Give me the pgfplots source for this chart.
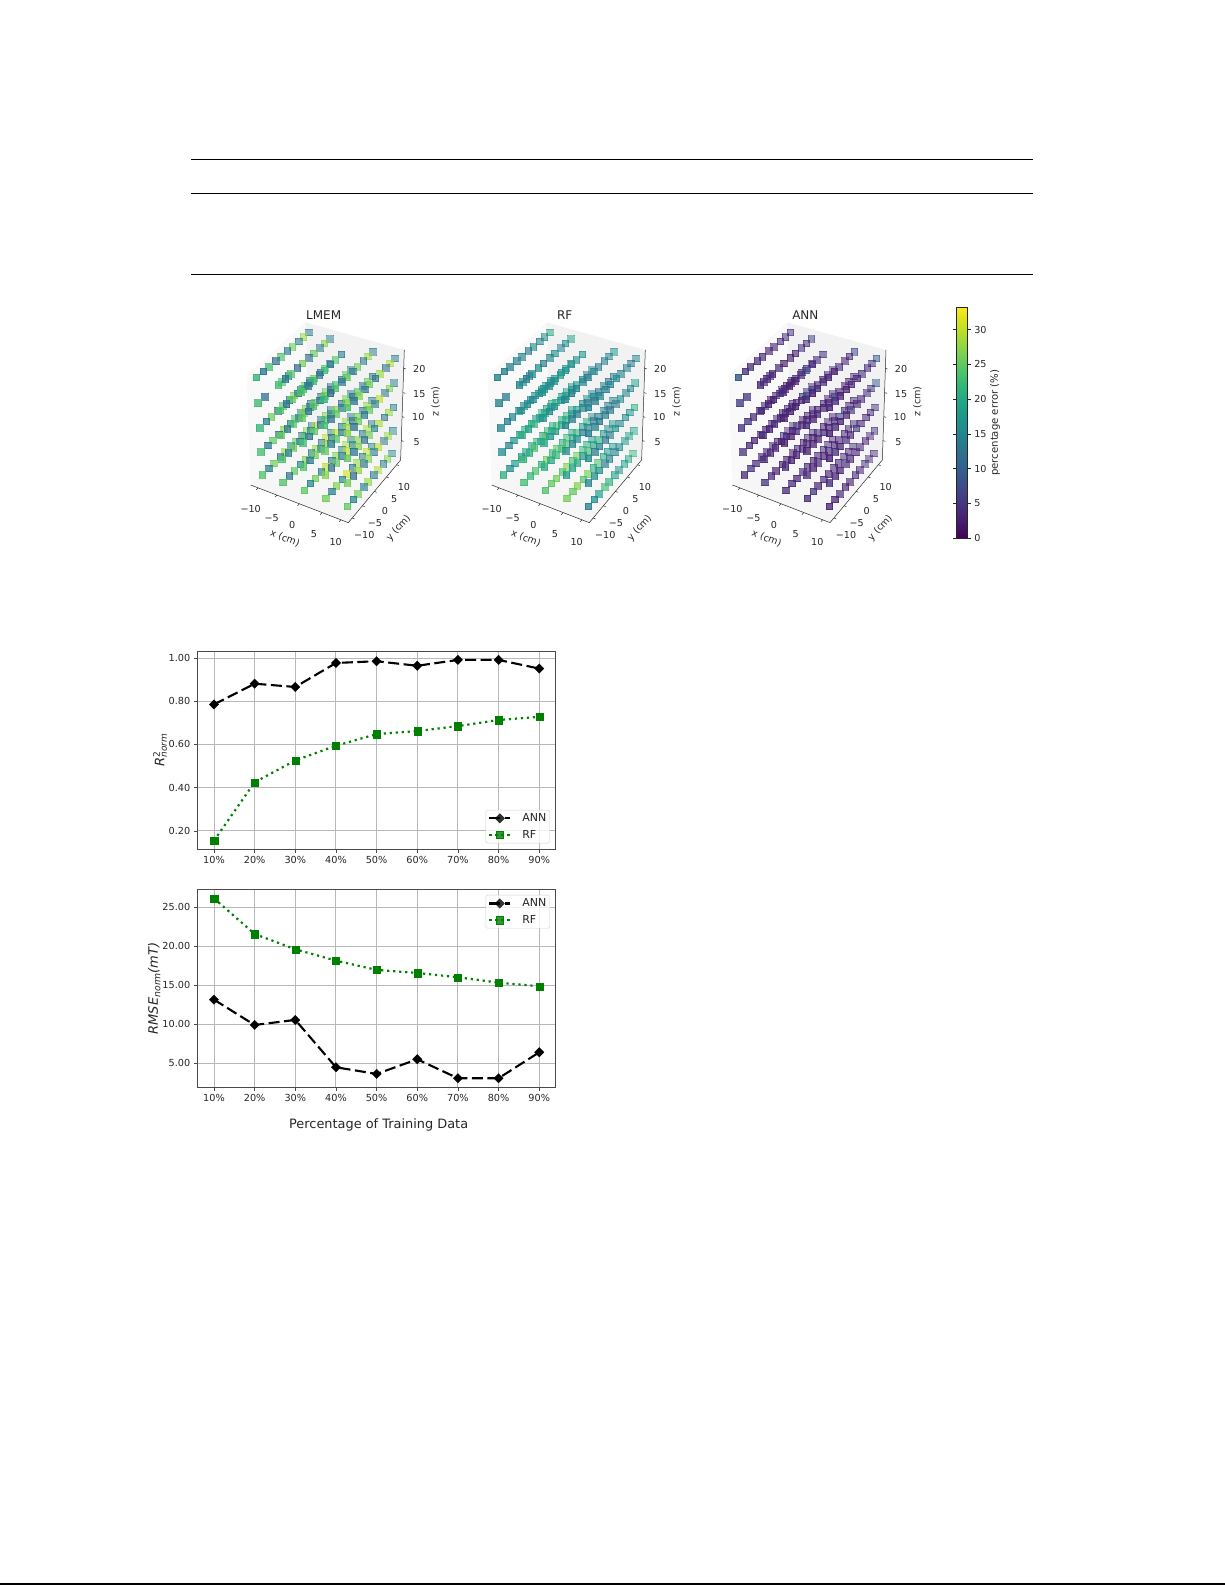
\documentclass[border=0pt]{standalone}
\usepackage{fontspec}
\setmainfont{DejaVu Sans}
\usepackage{pgfplots}
\usepackage{pgfplotstable}
\pgfplotsset{compat=1.18}

\definecolor{txt}{HTML}{262626}
\definecolor{gridc}{HTML}{B8B8B8}
\definecolor{framec}{HTML}{4A4A4A}
\definecolor{rfgreen}{HTML}{008000}

% error points: x y z (cm), then percentage error for LMEM, RF, ANN
\pgfplotstableread{
x y z L R A
-10 10 2.5 14 19 4
-10 7.8 2.5 27 21 3
-10 5.85 2.5 13 17 5
-10 3.35 2.5 25 22 3
-10 1.4 2.5 15 18 4
-10 -1.1 2.5 28 20 4
-10 -3.05 2.5 13 17 3
-10 -5.55 2.5 26 19 4
-10 -7.5 2.5 14 16 5
-10 -10 2.5 24 21 4
-10 10 7.5 13 20 3
-10 7.8 7.5 26 18 4
-10 5.85 7.5 15 21 3
-10 3.35 7.5 24 17 5
-10 1.4 7.5 14 19 4
-10 -1.1 7.5 27 22 3
-10 -3.05 7.5 12 18 4
-10 -5.55 7.5 25 17 3
-10 -7.5 7.5 13 15 4
-10 -10 7.5 23 16 5
-10 10 12.5 14 18 4
-10 7.8 12.5 25 16 3
-10 5.85 12.5 13 19 4
-10 3.35 12.5 27 15 4
-10 1.4 12.5 15 17 3
-10 -1.1 12.5 24 16 5
-10 -3.05 12.5 12 18 3
-10 -5.55 12.5 26 15 4
-10 -7.5 12.5 14 14 5
-10 -10 12.5 22 15 5
-10 1.4 17.5 14 15 4
-10 -1.1 17.5 24 16 3
-10 -7.5 17.5 12 14 5
-10 -10 17.5 23 15 6
-10 10 22.5 13 20 5
-10 7.8 22.5 28 16 4
-10 5.85 22.5 14 15 4
-10 3.35 22.5 26 16 3
-10 1.4 22.5 13 14 3
-10 -1.1 22.5 24 15 4
-10 -3.05 22.5 12 15 4
-10 -5.55 22.5 23 14 4
-10 -7.5 22.5 13 14 5
-10 -10 22.5 22 15 9
-5 10 2.5 15 19 5
-5 7.8 2.5 30 22 4
-5 5.85 2.5 13 20 3
-5 3.35 2.5 28 24 4
-5 1.4 2.5 14 22 3
-5 -1.1 2.5 27 26 3
-5 -3.05 2.5 15 21 4
-5 -5.55 2.5 25 24 3
-5 -7.5 2.5 13 22 4
-5 -10 2.5 24 23 5
-5 10 7.5 14 17 4
-5 7.8 7.5 27 22 3
-5 5.85 7.5 13 20 3
-5 3.35 7.5 29 23 5
-5 1.4 7.5 15 21 3
-5 -1.1 7.5 25 25 4
-5 -3.05 7.5 13 20 3
-5 -5.55 7.5 26 24 3
-5 -7.5 7.5 14 21 4
-5 -10 7.5 24 22 4
-5 10 12.5 13 16 3
-5 7.8 12.5 26 19 4
-5 5.85 12.5 14 17 3
-5 3.35 12.5 25 21 4
-5 1.4 12.5 12 18 3
-5 -1.1 12.5 27 20 4
-5 -3.05 12.5 14 19 3
-5 -5.55 12.5 24 22 4
-5 -7.5 12.5 13 19 3
-5 -10 12.5 25 21 4
-5 10 17.5 15 15 4
-5 7.8 17.5 24 17 3
-5 5.85 17.5 12 16 3
-5 3.35 17.5 26 18 4
-5 1.4 17.5 14 17 3
-5 -1.1 17.5 23 16 3
-5 -3.05 17.5 13 17 4
-5 -5.55 17.5 25 15 3
-5 -7.5 17.5 12 16 3
-5 -10 17.5 24 16 4
-5 10 22.5 14 19 6
-5 7.8 22.5 27 16 4
-5 5.85 22.5 13 15 4
-5 3.35 22.5 25 17 3
-5 1.4 22.5 12 15 3
-5 -1.1 22.5 26 14 3
-5 -3.05 22.5 11 16 4
-5 -5.55 22.5 24 15 3
-5 -7.5 22.5 13 14 4
-5 -10 22.5 23 15 4
0 10 2.5 14 17 4
0 7.8 2.5 29 20 3
0 5.85 2.5 15 22 4
0 3.35 2.5 27 26 3
0 1.4 2.5 13 23 3
0 -1.1 2.5 30 27 4
0 -3.05 2.5 14 24 4
0 -5.55 2.5 26 26 3
0 -7.5 2.5 15 25 4
0 -10 2.5 25 24 4
0 10 7.5 13 16 3
0 7.8 7.5 28 20 4
0 5.85 7.5 14 19 3
0 3.35 7.5 30 22 4
0 1.4 7.5 12 21 3
0 -1.1 7.5 27 24 3
0 -3.05 7.5 15 23 4
0 -5.55 7.5 26 22 3
0 -7.5 7.5 13 20 3
0 -10 7.5 24 21 4
0 10 12.5 14 14 4
0 7.8 12.5 26 17 3
0 5.85 12.5 13 16 4
0 3.35 12.5 27 19 3
0 1.4 12.5 14 18 4
0 -1.1 12.5 24 21 3
0 -3.05 12.5 12 20 3
0 -5.55 12.5 25 19 4
0 -7.5 12.5 13 18 3
0 -10 12.5 23 20 3
0 10 17.5 13 15 5
0 7.8 17.5 25 14 4
0 5.85 17.5 14 16 4
0 3.35 17.5 23 18 3
0 1.4 17.5 12 19 8
0 -1.1 17.5 26 20 9
0 -3.05 17.5 12 18 4
0 -5.55 17.5 24 17 3
0 -7.5 17.5 13 16 3
0 -10 17.5 25 17 3
0 5.85 22.5 13 17 5
0 3.35 22.5 24 16 4
0 1.4 22.5 13 18 4
0 -1.1 22.5 23 17 8
0 -3.05 22.5 12 18 4
0 -5.55 22.5 22 16 3
0 -7.5 22.5 13 16 3
0 -10 22.5 24 17 4
5 10 2.5 15 18 4
5 7.8 2.5 30 17 3
5 5.85 2.5 14 20 4
5 3.35 2.5 28 24 3
5 1.4 2.5 13 21 4
5 -1.1 2.5 31 26 3
5 -3.05 2.5 15 24 4
5 -5.55 2.5 27 27 3
5 -7.5 2.5 14 25 5
5 -10 2.5 26 26 4
5 10 7.5 13 17 3
5 7.8 7.5 29 16 3
5 5.85 7.5 14 18 4
5 3.35 7.5 27 21 3
5 1.4 7.5 15 19 3
5 -1.1 7.5 30 23 4
5 -3.05 7.5 13 17 3
5 -5.55 7.5 25 20 4
5 -7.5 7.5 12 19 3
5 -10 7.5 27 18 4
5 10 12.5 14 14 4
5 7.8 12.5 28 13 3
5 5.85 12.5 13 15 4
5 3.35 12.5 26 14 7
5 1.4 12.5 12 13 3
5 -1.1 12.5 28 15 3
5 -3.05 12.5 14 14 4
5 -5.55 12.5 24 16 3
5 -7.5 12.5 13 15 3
5 -10 12.5 25 16 3
5 10 17.5 13 13 4
5 7.8 17.5 26 12 3
5 5.85 17.5 12 14 3
5 3.35 17.5 24 13 3
5 1.4 17.5 13 15 7
5 -1.1 17.5 27 13 3
5 -3.05 17.5 14 15 3
5 -5.55 17.5 25 14 4
5 -7.5 17.5 12 14 3
5 -10 17.5 23 15 4
5 10 22.5 14 17 7
5 7.8 22.5 28 15 4
5 5.85 22.5 13 14 3
5 3.35 22.5 26 14 4
5 1.4 22.5 14 15 3
5 -1.1 22.5 25 14 3
5 -3.05 22.5 13 15 4
5 -5.55 22.5 24 15 4
5 -7.5 22.5 12 14 3
5 -10 22.5 22 15 4
10 10 2.5 15 22 4
10 7.8 2.5 27 20 4
10 5.85 2.5 14 19 5
10 3.35 2.5 29 17 3
10 1.4 2.5 13 19 4
10 -1.1 2.5 28 21 3
10 -3.05 2.5 14 23 3
10 -5.55 2.5 26 19 4
10 -7.5 2.5 15 16 3
10 -10 2.5 25 14 3
10 10 7.5 15 20 5
10 7.8 7.5 28 19 4
10 5.85 7.5 13 18 3
10 3.35 7.5 30 16 4
10 1.4 7.5 14 14 3
10 -1.1 7.5 27 15 3
10 -3.05 7.5 13 14 4
10 -5.55 7.5 28 17 3
10 -7.5 7.5 12 16 3
10 -10 7.5 26 15 4
10 10 12.5 14 21 5
10 7.8 12.5 28 17 4
10 5.85 12.5 13 16 3
10 3.35 12.5 29 15 3
10 1.4 12.5 15 17 6
10 -1.1 12.5 26 14 3
10 -3.05 12.5 12 13 4
10 -5.55 12.5 27 15 3
10 -7.5 12.5 13 14 4
10 -10 12.5 25 16 3
10 10 17.5 14 19 9
10 7.8 17.5 27 15 5
10 5.85 17.5 13 14 4
10 3.35 17.5 30 16 4
10 1.4 17.5 14 14 3
10 -1.1 17.5 25 13 5
10 -3.05 17.5 13 14 3
10 -5.55 17.5 26 13 3
10 -7.5 17.5 12 15 4
10 -10 17.5 27 14 3
10 10 22.5 14 15 10
10 7.8 22.5 29 13 5
10 5.85 22.5 12 15 4
10 3.35 22.5 28 14 5
10 1.4 22.5 13 16 3
10 -1.1 22.5 26 15 4
10 -3.05 22.5 14 14 3
10 -5.55 22.5 27 15 3
10 -7.5 22.5 13 14 4
10 -10 22.5 24 15 4
}\errpoints

\pgfplotstableread{
p ann rf
10 0.785 0.155
20 0.881 0.425
30 0.866 0.526
40 0.977 0.594
50 0.985 0.648
60 0.964 0.662
70 0.991 0.685
80 0.991 0.713
90 0.951 0.728
}\rtwo

\pgfplotstableread{
p ann rf
10 13.16 26.15
20 9.91 21.58
30 10.56 19.62
40 4.49 18.16
50 3.63 16.97
60 5.51 16.58
70 3.08 16.03
80 3.08 15.34
90 6.41 14.87
}\rmse

\newcommand{\fs}[1]{\fontsize{#1}{#1}\selectfont}

\pgfplotsset{
  cube/.style={
    scale only axis, width=240pt, height=260pt,
    xmin=0, xmax=720, ymin=0, ymax=780, y dir=reverse,
    hide axis, clip=false,
    colormap/viridis, point meta min=0, point meta max=33.2,
  },
  lines2d/.style={
    scale only axis, width=358.4pt, height=198pt,
    xmin=5.9, xmax=94.05,
    xtick={10,20,...,90},
    xticklabels={10\%,20\%,30\%,40\%,50\%,60\%,70\%,80\%,90\%},
    grid=major,
    grid style={gridc, line width=0.9pt},
    axis line style={framec, line width=0.9pt},
    tick style={framec, line width=0.7pt},
    tick align=outside, tick pos=lower,
    major tick length=3.5pt,
    ticklabel style={font=\fs{9.7}, text=txt},
    /pgf/number format/assume math mode=true,
    yticklabel style={/pgf/number format/fixed, /pgf/number format/fixed zerofill, /pgf/number format/precision=2},
    label style={text=txt},
    legend cell align=left,
    legend image code/.code={\path[draw=none] (-2pt,0pt) -- (31pt,0pt);\draw[mark repeat=2,mark phase=2,##1] plot coordinates {(0pt,0pt) (10.5pt,0pt) (21pt,0pt)};},
  },
  annline/.style={black, line width=2.1pt, dash pattern=on 11pt off 4.5pt, mark=square*, mark size=3.4pt, mark options={solid, fill=black, rotate=45, line width=0.1pt}},
  rfline/.style={rfgreen, line width=2.2pt, dash pattern=on 2.2pt off 3.8pt, mark=square*, mark size=3.6pt, mark options={solid, fill=rfgreen, line width=0.1pt}},
  boxleg/.style={draw=gray!35, rounded corners=1.5pt, fill=white, fill opacity=0.8, text opacity=1, font=\fs{11}, text=txt, inner sep=1.5pt, row sep=3pt},
}

\newcommand{\xtk}[2]{\draw[line width=0.5pt, black!85] (#1,#2) -- ++(-5,6);}
\newcommand{\ytk}[2]{\draw[line width=0.5pt, black!85] (#1,#2) -- ++(7,3);}
\newcommand{\ztk}[2]{\draw[line width=0.5pt, black!85] (#1,#2) -- ++(7,2);}
\newcommand{\lab}[3]{\node[font=\fs{9.6}, text=txt] at (#1,#2) {#3};}

% one cube panel: left edge in px, title, error column; coordinates are 3x px of the panel
\newcommand{\cubepanel}[3]{%
\begin{axis}[cube, at={(#1pt,1030pt)}, anchor=south west]
  \fill[fill=black!3.5] (97,570) -- (390,683) -- (547,495) -- (271,397) -- cycle;
  \fill[fill=black!2.5] (97,570) -- (85,240) -- (262,82) -- (271,397) -- cycle;
  \fill[fill=black!5] (271,397) -- (262,82) -- (558,165) -- (547,495) -- cycle;
  \draw[line width=0.5pt, black!85] (97,570) -- (390,683) -- (547,495) -- (558,165);
  \xtk{119}{579}\xtk{176}{600}\xtk{243}{626}\xtk{311}{653}\xtk{368}{674}
  \ytk{402}{669}\ytk{432}{632}\ytk{468}{589}\ytk{505}{546}\ytk{535}{509}
  \ztk{549}{437}\ztk{551}{365}\ztk{554}{293}\ztk{556}{220}
  \addplot[scatter, only marks, mark=square*, mark size=3.3pt, point meta=explicit,
    scatter/use mapped color={draw=mapped color, fill=mapped color},
    mark options={line width=0pt},
    visualization depends on={0.8-0.28*(\thisrow{y}+10)/20-0.05*(22.5-\thisrow{z})/20 \as \depthop},
    scatter/@pre marker code/.append code={\pgfsetfillopacity{\depthop}\pgfsetstrokeopacity{\depthop}}]
    table[x expr={cubeu(\thisrow{x},\thisrow{y},\thisrow{z})},
          y expr={cubev(\thisrow{x},\thisrow{y},\thisrow{z})},
          meta=#3] {\errpoints};
  \node[font=\fs{12}, text=txt] at (316,60) {#2};
  \lab{97}{643}{−10}\lab{160}{668}{−5}\lab{222}{690}{0}\lab{287}{716}{5}\lab{352}{740}{10}
  \lab{438}{720}{−10}\lab{470}{683}{−5}\lab{500}{648}{0}\lab{528}{612}{5}\lab{557}{575}{10}
  \lab{595}{440}{5}\lab{600}{367}{10}\lab{603}{296}{15}\lab{603}{222}{20}
  \node[font=\fs{9.6}, text=txt, rotate=-22] at (200,730) {x (cm)};
  \node[font=\fs{9.6}, text=txt, rotate=48] at (541,699) {y (cm)};
  \node[font=\fs{9.6}, text=txt, rotate=90] at (652,320) {z (cm)};
\end{axis}}

\begin{document}
\begin{tikzpicture}[declare function={
    cubew(\a,\b,\c)=1-0.04*(\a+10)/20+0.08*(\b+10)/20+0.07*(22.5-\c)/20;
    cubeu(\a,\b,\c)=(115+257.44*(\a+10)/20+178.76*(\b+10)/20+27.31*(22.5-\c)/20)/cubew(\a,\b,\c);
    cubev(\a,\b,\c)=(248+75.56*(\a+10)/20-125.96*(\b+10)/20+329.8*(22.5-\c)/20)/cubew(\a,\b,\c);
  }]
\path[use as bounding box] (0,0) rectangle (1225pt,1585pt);

% table rules of the page
\draw[line width=1.1pt] (191pt,1425.7pt) -- (1032.7pt,1425.7pt);
\draw[line width=1.1pt] (191pt,1391.7pt) -- (1032.7pt,1391.7pt);
\draw[line width=1.1pt] (191pt,1310.7pt) -- (1032.7pt,1310.7pt);
\draw[line width=1.2pt] (0pt,1pt) -- (1225pt,1pt);

\cubepanel{218.3}{LMEM}{L}
\cubepanel{459.3}{RF}{R}
\cubepanel{700}{ANN}{A}

% colour bar
\begin{axis}[at={(956.7pt,1046.7pt)}, anchor=south west,
  scale only axis, width=1pt, height=1pt, hide axis,
  colormap/viridis, point meta min=0, point meta max=33.2,
  colorbar,
  colorbar style={at={(0,0)}, anchor=south west, width=10.6pt, height=231pt,
    ytick={0,5,...,30}, yticklabel pos=right,
    yticklabel style={font=\fs{9.6}, text=txt},
    /pgf/number format/assume math mode=true,
    tick align=outside, major tick length=3.5pt,
    tick style={black!85, line width=0.5pt},
    axis line style={black!85, line width=0.6pt},
    ylabel={percentage error (\%)},
    every axis y label/.style={at={(axis description cs:3.61,0.5)}, anchor=center, rotate=90, font=\fs{10.1}, text=txt},
  }]
  \addplot[draw=none] coordinates {(0,0)};
\end{axis}

% R2 panel
\begin{axis}[lines2d, at={(197.3pt,735.7pt)}, anchor=south west,
  ymin=0.115, ymax=1.031, ytick={0.2,0.4,...,1.01},
  ylabel={{\itshape R}\rlap{\raisebox{4.5pt}{\fs{9}2}}\raisebox{-2.5pt}{\fs{9}\itshape norm}},
  every axis y label/.style={at={(axis description cs:-0.104,0.5)}, anchor=center, rotate=90, font=\fs{13}, text=txt},
  legend style={at={(1,0)}, anchor=south east, xshift=-5.7pt, yshift=6pt, boxleg}]
  \addplot[annline] table[x=p, y=ann] {\rtwo};
  \addlegendentry{ANN}
  \addplot[rfline] table[x=p, y=rf] {\rtwo};
  \addlegendentry{RF}
\end{axis}

% RMSE panel
\begin{axis}[lines2d, at={(197.3pt,497.7pt)}, anchor=south west,
  ymin=1.92, ymax=27.31, ytick={5,10,...,25},
  ylabel={{\itshape RMSE}\raisebox{-2.5pt}{\fs{9.3}\itshape norm}{\itshape (mT)}},
  every axis y label/.style={at={(axis description cs:-0.12,0.5)}, anchor=center, rotate=90, font=\fs{13}, text=txt},
  xlabel={Percentage of Training Data},
  every axis x label/.style={at={(axis description cs:0.506,-0.19)}, anchor=center, font=\fs{12.9}, text=txt},
  legend style={at={(1,1)}, anchor=north east, xshift=-5.7pt, yshift=-5.7pt, boxleg}]
  \addplot[annline] table[x=p, y=ann] {\rmse};
  \addlegendentry{ANN}
  \addplot[rfline] table[x=p, y=rf] {\rmse};
  \addlegendentry{RF}
\end{axis}
\end{tikzpicture}
\end{document}
